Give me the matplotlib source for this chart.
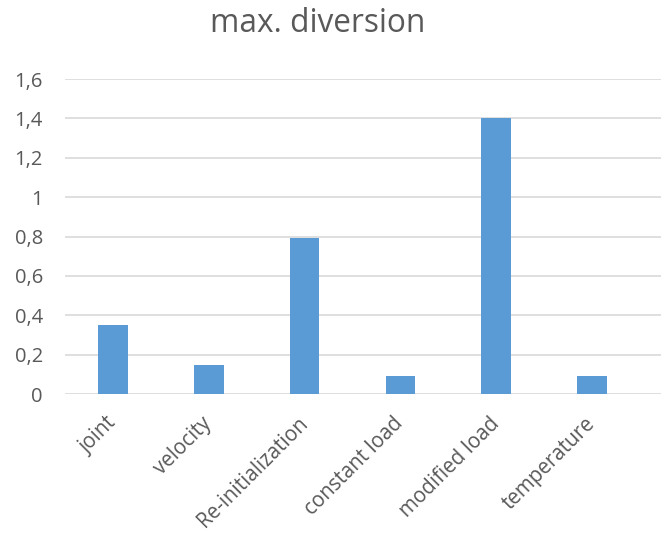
import matplotlib.pyplot as plt
from matplotlib.ticker import FuncFormatter

categories = ['joint', 'velocity', 'Re-initialization', 'constant load',
              'modified load', 'temperature']
values = [0.35, 0.145, 0.79, 0.09, 1.40, 0.09]
y_ticks = [0, 0.2, 0.4, 0.6, 0.8, 1.0, 1.2, 1.4, 1.6]

plt.rcParams['font.family'] = ['Open Sans', 'DejaVu Sans']

fig = plt.figure(figsize=(6.61, 5.35), dpi=100)
ax = fig.add_axes([65 / 661, 141 / 535, 596 / 661, 315 / 535])

x = list(range(len(categories)))
ax.bar(x, values, width=0.31, color='#5b9bd5', zorder=3)

ax.set_ylim(0, 1.6)
ax.set_xlim(-0.5, 5.72)
ax.set_yticks(y_ticks)
ax.yaxis.set_major_formatter(FuncFormatter(
    lambda v, _: ('%g' % round(v, 1)).replace('.', ',')))
ax.grid(axis='y', color='#d9d9d9', linewidth=1.2, zorder=0)

ax.set_xticks(x)
ax.set_xticklabels(categories, rotation=45, ha='right', va='center',
                   rotation_mode='anchor')
ax.tick_params(axis='x', length=0, labelsize=14.8, labelcolor='#595959', pad=19)
ax.tick_params(axis='y', length=0, labelsize=14.5, labelcolor='#595959', pad=16)

for side in ['top', 'right', 'left', 'bottom']:
    ax.spines[side].set_visible(False)

fig.text(0.481, 1 - 24 / 535, 'max. diversion', ha='center', va='center',
         fontsize=22.8, color='#595959')

fig.savefig('out.png', dpi=100)
